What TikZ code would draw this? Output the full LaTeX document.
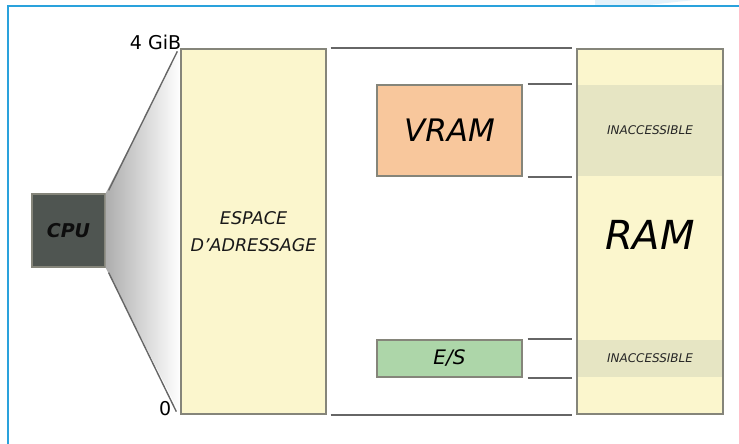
\documentclass[tikz,border=0pt]{standalone}
\usepackage{fontspec}
\setmainfont{DejaVu Sans}
\definecolor{frameblue}{HTML}{2AA2DC}
\definecolor{swoosh}{HTML}{E4F2FB}
\definecolor{cpugray}{HTML}{4F5551}
\definecolor{memyellow}{HTML}{FBF6CD}
\definecolor{inacc}{HTML}{E6E5C3}
\definecolor{vramorange}{HTML}{F8C79C}
\definecolor{esgreen}{HTML}{ADD6A9}
\definecolor{linegray}{HTML}{666666}
\definecolor{bordergray}{HTML}{85857A}
\tikzset{
  membox/.style={draw=bordergray, line width=1.3bp, rectangle, inner sep=0pt, align=center},
  bus/.style={draw=linegray, line width=2.2bp},
}
\begin{document}
\begin{tikzpicture}[x=1bp,y=-1bp]
\useasboundingbox (0,0) rectangle (739,444);
\fill[white] (0,0) rectangle (739,444);
% decorative swoosh and frame
\fill[swoosh] (595,0) -- (595,6) -- (640,6) .. controls (665,3) and (685,1) .. (695,0) -- cycle;
\draw[frameblue, line width=2bp] (8,444) -- (8,6) -- (739,6);

% CPU
\node[membox, fill=cpugray, minimum width=73bp, minimum height=73bp,
      font=\bfseries\itshape\fontsize{19bp}{19bp}\selectfont, text=black!95] (cpu) at (68.5,230.5) {CPU};

% address space
\node[membox, fill=memyellow, minimum width=145bp, minimum height=365bp,
      font=\itshape\fontsize{17.5bp}{27bp}\selectfont, text=black!90] (esp) at (253.5,231.5) {ESPACE\\D'ADRESSAGE};

% fan from CPU to address space
\shade[left color=black!32, right color=white]
  (cpu.north east) -- (esp.north west) -- (esp.south west) -- (cpu.south east) -- cycle;
\draw[linegray, line width=1.4bp] ([shift={(3,-3)}]cpu.north east) -- ([shift={(-3,3)}]esp.north west);
\draw[linegray, line width=1.4bp] ([shift={(3,5)}]cpu.south east) -- ([shift={(-4,-3)}]esp.south west);

\node[anchor=base east, inner sep=0pt, font=\fontsize{19bp}{19bp}\selectfont] (gib) at ([shift={(1,1)}]esp.north west) {4 GiB};
\node[anchor=base east, inner sep=0pt, font=\fontsize{19bp}{19bp}\selectfont] (zero) at ([shift={(-9,1)}]esp.south west) {0};

% RAM
\node[membox, fill=memyellow, minimum width=146bp, minimum height=365bp] (ram) at (650,231.5) {};
\node[fill=inacc, minimum width=144bp, minimum height=91bp, inner sep=0pt,
      font=\itshape\fontsize{12bp}{12bp}\selectfont, text=black!85] (in1) at (650,130.5) {INACCESSIBLE};
\node[fill=inacc, minimum width=144bp, minimum height=37bp, inner sep=0pt,
      font=\itshape\fontsize{12bp}{12bp}\selectfont, text=black!85] (in2) at (650,358.5) {INACCESSIBLE};
\draw[bordergray, line width=1.3bp] (ram.north west) rectangle (ram.south east);
\node[font=\itshape\fontsize{40bp}{40bp}\selectfont, inner sep=0pt] (ramlbl) at (650,235) {RAM};

% VRAM and E/S
\node[membox, fill=vramorange, minimum width=145bp, minimum height=91bp,
      font=\itshape\fontsize{31bp}{31bp}\selectfont] (vram) at (449.5,130.5) {VRAM};
\node[membox, fill=esgreen, minimum width=145bp, minimum height=37bp,
      font=\itshape\fontsize{20bp}{20bp}\selectfont] (es) at (449.5,358.5) {E/S};

% bus lines
\draw[bus] ([shift={(4,0)}]esp.north east) -- ([shift={(-4,0)}]ram.north west);
\draw[bus] ([shift={(4,0)}]esp.south east) -- ([shift={(-4,0)}]ram.south west);
\draw[bus] ([shift={(5,0)}]vram.north east) -- ([shift={(-4,0)}]vram.north east -| ram.west);
\draw[bus] ([shift={(5,0)}]vram.south east) -- ([shift={(-4,0)}]vram.south east -| ram.west);
\draw[bus] ([shift={(5,0)}]es.north east) -- ([shift={(-4,0)}]es.north east -| ram.west);
\draw[bus] ([shift={(5,0)}]es.south east) -- ([shift={(-4,0)}]es.south east -| ram.west);
\end{tikzpicture}
\end{document}
